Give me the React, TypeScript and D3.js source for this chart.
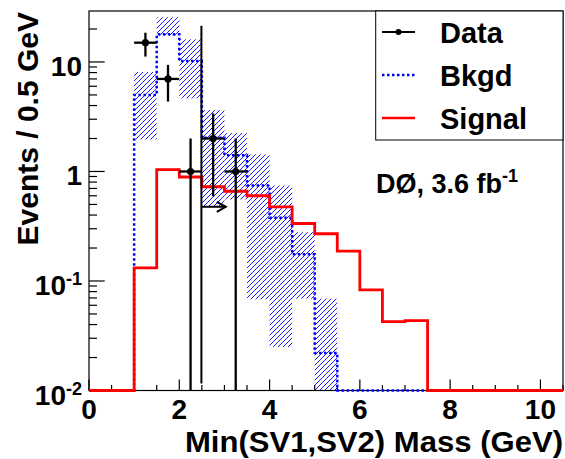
import React, { useRef, useEffect } from 'react';
import * as d3 from 'd3';

// bins of 0.5 GeV from 0 to 10.5
const binEdges = [0, 0.5, 1, 1.5, 2, 2.5, 3, 3.5, 4, 4.5, 5, 5.5, 6, 6.5, 7, 7.5, 8, 8.5, 9, 9.5, 10, 10.5];

const signal = [0, 0, 0.132, 1.04, 0.89, 0.725, 0.66, 0.60, 0.476, 0.335, 0.27, 0.187, 0.083, 0.0425, 0.0434, 0, 0, 0, 0, 0, 0];
const bkgd = [0, 0, 5.0, 17.9, 10.2, 2.03, 1.41, 0.745, 0.378, 0.175, 0.022, 0, 0, 0, 0, 0, 0, 0, 0, 0, 0];
// background uncertainty band (0 = no band)
const bandLow = [0, 0, 1.96, 17.3, 4.65, 0.48, 0.555, 0.068, 0.025, 0.069, 0.001, 0, 0, 0, 0, 0, 0, 0, 0, 0, 0];
const bandHigh = [0, 0, 8.1, 25.6, 16.1, 3.63, 2.24, 1.43, 0.745, 0.279, 0.069, 0, 0, 0, 0, 0, 0, 0, 0, 0, 0];

const dataX = [1.25, 1.75, 2.25, 2.75, 3.25];
const dataY = [15, 7, 1, 2, 1];
const dataLow = [11.2, 4.35, 0, 0.595, 0];
const dataHigh = [18.5, 9.4, 2.0, 3.39, 2.0];
const dataXErr = 0.25;

const cutX = 2.49;
const cutTop = 21.4;
const cutBottom = 0.0116;
const arrowY = 0.476;
const arrowEnd = 3.03;

const xTicks = [0, 2, 4, 6, 8, 10];
const yTicks = [0.01, 0.1, 1, 10];
const yTickLabels = [['10', '-2'], ['10', '-1'], ['1', ''], ['10', '']];

const legendItems = ['Data', 'Bkgd', 'Signal'];

const font = 'Liberation Sans, Arial, Helvetica, sans-serif';

const Chart: React.FC = () => {
  const ref = useRef<SVGSVGElement>(null);

  useEffect(() => {
    const svg = d3.select(ref.current!);
    svg.selectAll('*').remove();

    const left = 89, right = 563, top = 11, bottom = 390.5;
    const yMin = 0.01;

    const x = d3.scaleLinear().domain([0, 10.5]).range([left, right]);
    const y = d3.scaleLog().domain([yMin, 29.2]).range([bottom, top]);
    const yc = (v: number) => y(Math.max(v, yMin));

    svg.append('rect').attr('width', 565).attr('height', 459).attr('fill', 'white');

    const defs = svg.append('defs');
    const pat = defs.append('pattern')
      .attr('id', 'bkgHatch')
      .attr('patternUnits', 'userSpaceOnUse')
      .attr('width', 5)
      .attr('height', 5);
    pat.append('path')
      .attr('d', 'M-1,1 L1,-1 M0,5 L5,0 M4,6 L6,4')
      .attr('fill', 'none')
      .style('stroke', '#0000ff')
      .style('stroke-width', '0.9px');

    // frame
    svg.append('rect')
      .attr('x', left).attr('y', top)
      .attr('width', right - left).attr('height', bottom - top)
      .attr('fill', 'none').attr('stroke', 'black').attr('stroke-width', 1.2);

    // x ticks
    const g = svg.append('g');
    for (let i = 0; i < binEdges.length; i++) {
      const v = binEdges[i];
      const major = xTicks.includes(v);
      g.append('line')
        .attr('x1', x(v)).attr('x2', x(v))
        .attr('y1', bottom).attr('y2', bottom - (major ? 11 : 5.5))
        .attr('stroke', 'black').attr('stroke-width', 1.2);
    }
    // y ticks
    yTicks.forEach((d) => {
      g.append('line')
        .attr('x1', left).attr('x2', left + 15.7)
        .attr('y1', y(d)).attr('y2', y(d))
        .attr('stroke', 'black').attr('stroke-width', 1.2);
      for (let k = 2; k <= 9; k++) {
        const v = d * k;
        if (v > 29.2) break;
        g.append('line')
          .attr('x1', left).attr('x2', left + 8)
          .attr('y1', y(v)).attr('y2', y(v))
          .attr('stroke', 'black').attr('stroke-width', 1.2);
      }
    });

    // tick labels
    xTicks.forEach((d) => {
      svg.append('text')
        .attr('x', x(d)).attr('y', 419)
        .attr('text-anchor', 'middle')
        .attr('font-family', font).attr('font-weight', 'bold').attr('font-size', 28)
        .text(d);
    });
    yTicks.forEach((d, i) => {
      const t = svg.append('text')
        .attr('x', 82).attr('y', y(d) + 14)
        .attr('text-anchor', 'end')
        .attr('font-family', font).attr('font-weight', 'bold').attr('font-size', 28);
      t.append('tspan').text(yTickLabels[i][0]);
      if (yTickLabels[i][1]) {
        t.append('tspan').attr('dy', -10).attr('font-size', 18).text(yTickLabels[i][1]);
      }
    });

    // axis titles
    svg.append('text')
      .attr('x', 563).attr('y', 452)
      .attr('text-anchor', 'end')
      .attr('font-family', font).attr('font-weight', 'bold').attr('font-size', 30)
      .attr('textLength', 378).attr('lengthAdjust', 'spacingAndGlyphs')
      .text('Min(SV1,SV2) Mass (GeV)');
    svg.append('text')
      .attr('transform', 'translate(38,12) rotate(-90)')
      .attr('text-anchor', 'end')
      .attr('font-family', font).attr('font-weight', 'bold').attr('font-size', 30)
      .text('Events / 0.5 GeV');

    // background band
    svg.append('g').selectAll('rect')
      .data(bandHigh.map((h, i) => ({ i, h, l: bandLow[i] })).filter(d => d.h > 0))
      .enter().append('rect')
      .attr('x', d => x(binEdges[d.i]))
      .attr('width', d => x(binEdges[d.i + 1]) - x(binEdges[d.i]))
      .attr('y', d => yc(d.h))
      .attr('height', d => yc(d.l) - yc(d.h))
      .attr('fill', 'url(#bkgHatch)');

    const stepPoints = (vals: number[]) => {
      const pts: [number, number][] = [];
      vals.forEach((v, i) => {
        pts.push([x(binEdges[i]), yc(v)]);
        pts.push([x(binEdges[i + 1]), yc(v)]);
      });
      return pts;
    };
    const line = d3.line();

    svg.append('path')
      .attr('d', line(stepPoints(bkgd)))
      .attr('fill', 'none').attr('stroke', '#0000ff')
      .attr('stroke-width', 2.5).attr('stroke-dasharray', '2.5,2.5');

    svg.append('path')
      .attr('d', line(stepPoints(signal)))
      .attr('fill', 'none').attr('stroke', '#ff0000')
      .attr('stroke-width', 2.8);

    // data points
    const dg = svg.append('g');
    dataX.forEach((dx, i) => {
      dg.append('line')
        .attr('x1', x(dx)).attr('x2', x(dx))
        .attr('y1', yc(dataHigh[i])).attr('y2', yc(dataLow[i]))
        .attr('stroke', 'black').attr('stroke-width', 2.3);
      dg.append('line')
        .attr('x1', x(dx - dataXErr)).attr('x2', x(dx + dataXErr))
        .attr('y1', y(dataY[i])).attr('y2', y(dataY[i]))
        .attr('stroke', 'black').attr('stroke-width', 2.3);
      dg.append('circle')
        .attr('cx', x(dx)).attr('cy', y(dataY[i])).attr('r', 3.6)
        .attr('fill', 'black');
    });

    // cut line and arrow
    svg.append('line')
      .attr('x1', x(cutX)).attr('x2', x(cutX))
      .attr('y1', y(cutTop)).attr('y2', y(cutBottom))
      .attr('stroke', 'black').attr('stroke-width', 2);
    const ay = y(arrowY);
    svg.append('line')
      .attr('x1', x(cutX)).attr('x2', x(arrowEnd))
      .attr('y1', ay).attr('y2', ay)
      .attr('stroke', 'black').attr('stroke-width', 2);
    svg.append('path')
      .attr('d', `M${x(arrowEnd) - 9},${ay - 5} L${x(arrowEnd)},${ay} L${x(arrowEnd) - 9},${ay + 5}`)
      .attr('fill', 'none').attr('stroke', 'black').attr('stroke-width', 2);

    // legend
    svg.append('rect')
      .attr('x', 375.7).attr('y', top)
      .attr('width', right - 375.7).attr('height', 140 - top)
      .attr('fill', 'white').attr('stroke', 'black').attr('stroke-width', 1);
    legendItems.forEach((name, i) => {
      const ly = 32 + i * 43;
      if (i === 0) {
        svg.append('line').attr('x1', 382).attr('x2', 415).attr('y1', ly).attr('y2', ly)
          .attr('stroke', 'black').attr('stroke-width', 2);
        svg.append('circle').attr('cx', 398.5).attr('cy', ly).attr('r', 3).attr('fill', 'black');
      } else if (i === 1) {
        svg.append('line').attr('x1', 382).attr('x2', 415).attr('y1', ly).attr('y2', ly)
          .attr('stroke', '#0000ff').attr('stroke-width', 2.5).attr('stroke-dasharray', '2.5,2.5');
      } else {
        svg.append('line').attr('x1', 382).attr('x2', 415).attr('y1', ly).attr('y2', ly)
          .attr('stroke', '#ff0000').attr('stroke-width', 2.5);
      }
      svg.append('text')
        .attr('x', 440).attr('y', ly + 10.5)
        .attr('font-family', font).attr('font-weight', 'bold').attr('font-size', 29)
        .text(name);
    });

    const lbl = svg.append('text')
      .attr('x', 376).attr('y', 193)
      .attr('font-family', font).attr('font-weight', 'bold').attr('font-size', 27);
    lbl.append('tspan').text('DØ, 3.6 fb');
    lbl.append('tspan').attr('dy', -11).attr('font-size', 18).text('-1');
  }, []);

  return <svg ref={ref} width={565} height={459} style={{ position: 'absolute', left: 0, top: 0 }}></svg>;
};

export default function App() {
  return <Chart />;
}
